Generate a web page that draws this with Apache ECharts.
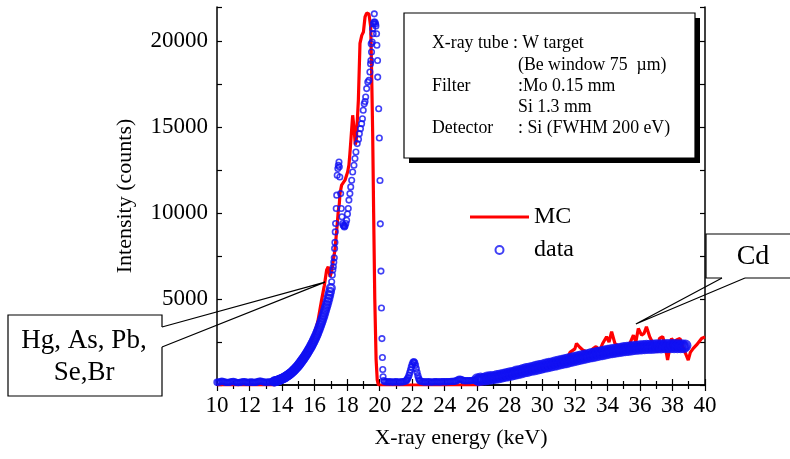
<!DOCTYPE html>
<html><head><meta charset="utf-8">
<script src="https://cdn.jsdelivr.net/npm/echarts@6/dist/echarts.min.js"></script>
<style>html,body{margin:0;padding:0;background:#fff}#c{width:790px;height:459px}</style>
</head><body><div id="c"></div>
<script>
// ---- data (energy keV, counts) ----
const dataBaseline = [[10.0,160],[10.1,170],[10.2,190],[10.3,220],[10.4,200],[10.5,170],[10.6,150],[10.7,150],[10.8,170],[10.9,200],[11.0,210],[11.1,180],[11.2,150],[11.3,140],[11.4,150],[11.5,170],[11.6,200],[11.7,190],[11.8,160],[11.9,150],[12.0,160],[12.1,180],[12.2,160],[12.3,150],[12.4,160],[12.5,190],[12.6,220],[12.7,230],[12.8,200],[12.9,170],[13.0,160],[13.1,170],[13.2,180],[13.3,180],[13.4,190]];
const dataRise = [[13.5,200],[13.55,210],[13.6,220],[13.65,235],[13.7,250],[13.75,260],[13.8,280],[13.85,300],[13.9,320],[13.95,340],[14.0,360],[14.05,380],[14.1,410],[14.15,430],[14.2,460],[14.25,490],[14.3,520],[14.35,560],[14.4,590],[14.45,630],[14.5,660],[14.55,700],[14.6,740],[14.65,790],[14.7,830],[14.75,880],[14.8,930],[14.85,980],[14.9,1030],[14.95,1080],[15.0,1140],[15.05,1200],[15.1,1260],[15.15,1320],[15.2,1390],[15.25,1450],[15.3,1520],[15.35,1590],[15.4,1660],[15.45,1730],[15.5,1800],[15.55,1880],[15.6,1960],[15.65,2040],[15.7,2120],[15.75,2200],[15.8,2290],[15.85,2380],[15.9,2470],[15.95,2570],[16.0,2670],[16.05,2770],[16.1,2880],[16.15,2990],[16.2,3110],[16.25,3230],[16.3,3360],[16.35,3490],[16.4,3620],[16.45,3760],[16.5,3900],[16.55,4050],[16.6,4200],[16.65,4360],[16.7,4520],[16.75,4690],[16.8,4860],[16.85,5040],[16.9,5230],[16.95,5420],[17.0,5650]];
const dataPeak = [[17.05,6010],[17.09,6400],[17.12,6700],[17.15,6880],[17.18,7150],[17.21,7400],[17.23,7950],[17.25,8300],[17.27,8910],[17.29,9400],[17.33,10270],[17.36,11050],[17.39,12210],[17.43,12600],[17.46,12790],[17.5,12980],[17.52,12700],[17.55,12110],[17.6,11140],[17.64,10270],[17.68,9790],[17.72,9400],[17.76,9300],[17.8,9250],[17.83,9200],[17.87,9250],[17.92,9400],[17.97,9590],[18.02,9950],[18.07,10270],[18.11,10760],[18.17,11140],[18.22,11530],[18.28,11920],[18.34,12400],[18.42,12790],[18.48,13180],[18.54,13560],[18.62,14050],[18.7,14300],[18.75,14630],[18.82,14920],[18.89,15210],[18.94,15500],[18.99,15990],[19.05,16370],[19.1,16500],[19.14,16760],[19.2,17250],[19.27,17630],[19.34,17730],[19.4,18220],[19.44,18700],[19.46,18890],[19.48,19860],[19.5,19380],[19.54,19960],[19.57,20740],[19.6,20450],[19.62,21020],[19.65,21120],[19.67,21600],[19.71,21120],[19.75,21020],[19.77,20900],[19.81,20440],[19.83,19770],[19.87,18890],[19.88,17920],[19.94,16080],[19.98,14380],[20.02,11900],[20.04,9380],[20.08,6630],[20.11,4480],[20.14,2700],[20.17,1600],[20.19,900],[20.21,480],[20.25,260]];
const dataMid = [[20.3,200],[20.4,190],[20.5,180],[20.6,190],[20.7,180],[20.8,170],[20.9,180],[21.0,190],[21.1,180],[21.2,170],[21.3,180],[21.4,190],[21.5,200],[21.6,230],[21.65,280],[21.7,340],[21.75,430],[21.8,560],[21.85,720],[21.9,880],[21.95,1050],[22.0,1200],[22.05,1320],[22.1,1360],[22.15,1300],[22.2,1150],[22.25,950],[22.3,740],[22.35,540],[22.4,380],[22.45,280],[22.5,230],[22.6,200],[22.7,190],[22.8,180],[22.9,180],[23.0,190],[23.1,180],[23.2,170],[23.3,180],[23.4,190],[23.5,190],[23.6,180],[23.7,180],[23.8,190],[23.9,200],[24.0,190],[24.1,190],[24.2,200],[24.3,200],[24.4,210],[24.5,210],[24.6,220],[24.7,240],[24.8,290],[24.9,340],[25.0,330],[25.1,280],[25.2,250],[25.3,250],[25.4,250],[25.5,260],[25.6,260],[25.7,270],[25.8,280],[25.9,290]];
const dataTail = [[26.0,330],[26.1,280],[26.2,380],[26.3,300],[26.4,370],[26.5,320],[26.6,430],[26.7,350],[26.8,460],[26.9,380],[27.0,470],[27.1,410],[27.2,530],[27.3,440],[27.4,560],[27.5,480],[27.6,600],[27.7,520],[27.8,640],[27.9,560],[28.0,680],[28.1,590],[28.2,720],[28.3,640],[28.4,780],[28.5,690],[28.6,820],[28.7,730],[28.8,870],[28.9,780],[29.0,930],[29.1,820],[29.2,960],[29.3,870],[29.4,1010],[29.5,900],[29.6,1060],[29.7,950],[29.8,1100],[29.9,990],[30.0,1140],[30.1,1040],[30.2,1190],[30.3,1070],[30.4,1230],[30.5,1120],[30.6,1270],[30.7,1170],[30.8,1320],[30.9,1200],[31.0,1370],[31.1,1250],[31.2,1410],[31.3,1290],[31.4,1450],[31.5,1330],[31.6,1500],[31.7,1380],[31.8,1540],[31.9,1430],[32.0,1590],[32.1,1470],[32.2,1630],[32.3,1510],[32.4,1670],[32.5,1550],[32.6,1710],[32.7,1600],[32.8,1750],[32.9,1640],[33.0,1800],[33.1,1680],[33.2,1830],[33.3,1720],[33.4,1870],[33.5,1760],[33.6,1910],[33.7,1790],[33.8,1950],[33.9,1830],[34.0,1990],[34.1,1870],[34.2,2020],[34.3,1900],[34.4,2050],[34.5,1930],[34.6,2080],[34.7,1960],[34.8,2110],[34.9,1990],[35.0,2150],[35.1,2020],[35.2,2170],[35.3,2040],[35.4,2190],[35.5,2070],[35.6,2210],[35.7,2090],[35.8,2230],[35.9,2110],[36.0,2260],[36.1,2130],[36.2,2270],[36.3,2140],[36.4,2280],[36.5,2150],[36.6,2290],[36.7,2160],[36.8,2300],[36.9,2170],[37.0,2310],[37.1,2180],[37.2,2320],[37.3,2180],[37.4,2320],[37.5,2190],[37.6,2330],[37.7,2190],[37.8,2330],[37.9,2190],[38.0,2330],[38.1,2200],[38.2,2330],[38.3,2190],[38.4,2320],[38.5,2190],[38.6,2320],[38.7,2190],[38.8,2300]];
const mcCurve = [[10,0],[13.5,0],[14.0,200],[14.5,600],[14.9,1060],[15.2,1500],[15.5,1940],[15.75,2400],[16.0,3000],[16.2,3700],[16.43,4940],[16.6,5800],[16.74,6690],[16.84,6880],[16.95,6300],[17.05,6600],[17.15,7270],[17.25,7850],[17.36,9010],[17.46,10170],[17.52,10550],[17.56,11140],[17.66,11630],[17.87,11920],[18.03,12400],[18.11,12800],[18.17,13470],[18.23,14240],[18.34,15700],[18.42,15000],[18.5,14000],[18.56,14200],[18.69,16570],[18.79,19880],[18.9,20350],[19.0,20540],[19.1,21420],[19.2,21650],[19.34,21600],[19.45,20830],[19.5,18500],[19.57,14650],[19.63,10000],[19.7,5000],[19.78,1500],[19.85,300],[19.92,0],[26.0,0],[26.5,100],[27,250],[28,500],[29,750],[30,980],[30.5,1100],[31.0,1250],[31.1,1360],[31.3,1650],[31.5,1500],[31.7,1900],[32.0,2100],[32.1,2420],[32.3,2200],[32.5,2030],[32.7,1940],[32.9,1840],[33.1,2100],[33.3,2230],[33.54,2030],[33.7,2400],[33.95,2810],[34.1,2500],[34.26,3100],[34.46,2420],[34.7,2250],[35.08,2330],[35.3,2250],[35.6,2900],[35.75,2500],[35.9,3290],[36.1,2900],[36.25,3000],[36.4,3390],[36.6,2810],[36.9,2230],[37.05,1900],[37.2,2710],[37.4,2810],[37.55,2300],[37.7,1450],[37.94,2710],[38.1,2500],[38.25,2620],[38.46,2710],[38.6,2300],[38.76,1940],[38.97,1450],[39.1,1900],[39.28,2130],[39.48,2330],[39.79,2710],[40.0,2800]];
const seriesNames = ['MC', 'data'];
const infoLines = [
  ['X-ray tube : W target', ''],
  ['', '(Be window 75  \u00b5m)'],
  ['Filter', ':Mo 0.15 mm'],
  ['', 'Si 1.3 mm'],
  ['Detector', ': Si (FWHM 200 eV)']
];
const hgLabel = ['Hg, As, Pb,', 'Se,Br'];
const cdLabel = 'Cd';
const hgAnchor = [16.64, 5990];
const cdAnchor = [35.75, 3550];

const FONT = '"Liberation Serif", "Times New Roman", serif';
const BLUE = '#1010f2';
const chart = echarts.init(document.getElementById('c'), null, {renderer: 'canvas'});

const axisLine = {show: true, lineStyle: {color: '#000', width: 1.5}};
const tickStyle = {color: '#000', width: 1.2};
const scatter = (data, size, bw) => ({name: seriesNames[1], type: 'scatter', data, xAxisIndex: 0, yAxisIndex: 0,
  symbol: 'circle', symbolSize: size,
  itemStyle: {color: 'rgba(0,0,0,0)', borderColor: BLUE, borderWidth: bw}, z: 3});
const option = {
  animation: false,
  backgroundColor: '#fff',
  grid: {left: 217, right: 85, top: 7, bottom: 74, outerBoundsMode: 'none'},
  xAxis: [
    {type: 'value', min: 10, max: 40, interval: 2, position: 'bottom',
     axisLine, axisTick: {inside: true, length: 6, lineStyle: tickStyle},
     minorTick: {show: true, splitNumber: 2, length: 4, lineStyle: tickStyle},
     splitLine: {show: false}, minorSplitLine: {show: false},
     axisLabel: {color: '#000', fontSize: 23, fontFamily: FONT, margin: 9},
     name: 'X-ray energy (keV)', nameLocation: 'middle', nameGap: 42, nameMoveOverlap: false,
     nameTextStyle: {color: '#000', fontSize: 22, fontFamily: FONT}},
    {type: 'value', min: 10, max: 40, interval: 2, position: 'top',
     axisLine, axisTick: {inside: true, length: 6, lineStyle: tickStyle},
     minorTick: {show: true, splitNumber: 2, length: 4, lineStyle: tickStyle},
     splitLine: {show: false}, axisLabel: {show: false}}
  ],
  yAxis: [
    {type: 'value', min: 0, max: 22000, interval: 2500, position: 'left',
     axisLine, axisTick: {inside: true, length: 5, lineStyle: tickStyle},
     splitLine: {show: false},
     axisLabel: {color: '#000', fontSize: 23, fontFamily: FONT, margin: 9,
       formatter: v => (v !== 0 && v % 5000 === 0) ? String(v) : ''},
     name: 'Intensity (counts)', nameLocation: 'middle', nameGap: 81, nameMoveOverlap: false,
     nameTextStyle: {color: '#000', fontSize: 22, fontFamily: FONT}},
    {type: 'value', min: 0, max: 22000, interval: 2500, position: 'right',
     axisLine, axisTick: {inside: true, length: 5, lineStyle: tickStyle},
     splitLine: {show: false}, axisLabel: {show: false}}
  ],
  legend: {
    orient: 'vertical', left: 465, top: 200, itemWidth: 59, itemHeight: 8, itemGap: 9,
    textStyle: {color: '#000', fontSize: 24, fontFamily: FONT},
    data: [{name: seriesNames[0], icon: 'path://M0,0L60,0L60,3L0,3Z'}, {name: seriesNames[1]}]
  },
  series: [
    {name: seriesNames[0], type: 'line', data: mcCurve, xAxisIndex: 0, yAxisIndex: 0,
     symbol: 'none', showSymbol: false, smooth: false,
     lineStyle: {color: '#ff0000', width: 3.2}, itemStyle: {color: '#ff0000'}, z: 2},
    scatter(dataPeak, 5.5, 1.6),
    scatter(dataBaseline.concat(dataMid), 5.5, 1.8),
    scatter(dataRise, 7.5, 2.5),
    scatter(dataTail, 9, 3)
  ]
};
chart.setOption(option);

const hgTip = chart.convertToPixel({xAxisIndex: 0, yAxisIndex: 0}, hgAnchor);
const cdTip = chart.convertToPixel({xAxisIndex: 0, yAxisIndex: 0}, cdAnchor);
const txt = (text, x, y, size, align) => ({type: 'text', z: 100,
  style: {text, x, y, fill: '#000', fontSize: size, fontFamily: FONT, align: align || 'left', verticalAlign: 'middle'}});
const line = (pts) => ({type: 'polyline', z: 100, shape: {points: pts}, style: {stroke: '#000', lineWidth: 1.2, fill: null}});

const graphics = [];
graphics.push({type: 'rect', z: 99, shape: {x: 409, y: 18, width: 291, height: 145}, style: {fill: '#000'}});
graphics.push({type: 'rect', z: 100, shape: {x: 404, y: 13, width: 291, height: 145}, style: {fill: '#fff', stroke: '#000', lineWidth: 1.2}});
const infoY = [43, 65, 86, 107, 128];
infoLines.forEach((l, i) => {
  if (l[0]) graphics.push(txt(l[0], 432, infoY[i], 17.8));
  if (l[1]) graphics.push(txt(l[1], 518, infoY[i], 17.8));
});
graphics.push({type: 'rect', z: 99, shape: {x: 8, y: 315, width: 154, height: 81}, style: {fill: '#fff'}});
graphics.push(line([[162, 327], [162, 315], [8, 315], [8, 396], [162, 396], [162, 347]]));
graphics.push(line([[162, 327], hgTip, [162, 347]]));
graphics.push(txt(hgLabel[0], 84, 341, 27, 'center'));
graphics.push(txt(hgLabel[1], 84, 373, 27, 'center'));
graphics.push({type: 'rect', z: 99, shape: {x: 706, y: 234, width: 90, height: 44}, style: {fill: '#fff'}});
graphics.push(line([[722, 278], [706, 278], [706, 234], [795, 234]]));
graphics.push(line([[745, 278], [795, 278]]));
graphics.push(line([[722, 278], cdTip, [745, 278]]));
graphics.push(txt(cdLabel, 753, 257, 28, 'center'));

chart.setOption({graphic: graphics});
</script>
</body></html>
